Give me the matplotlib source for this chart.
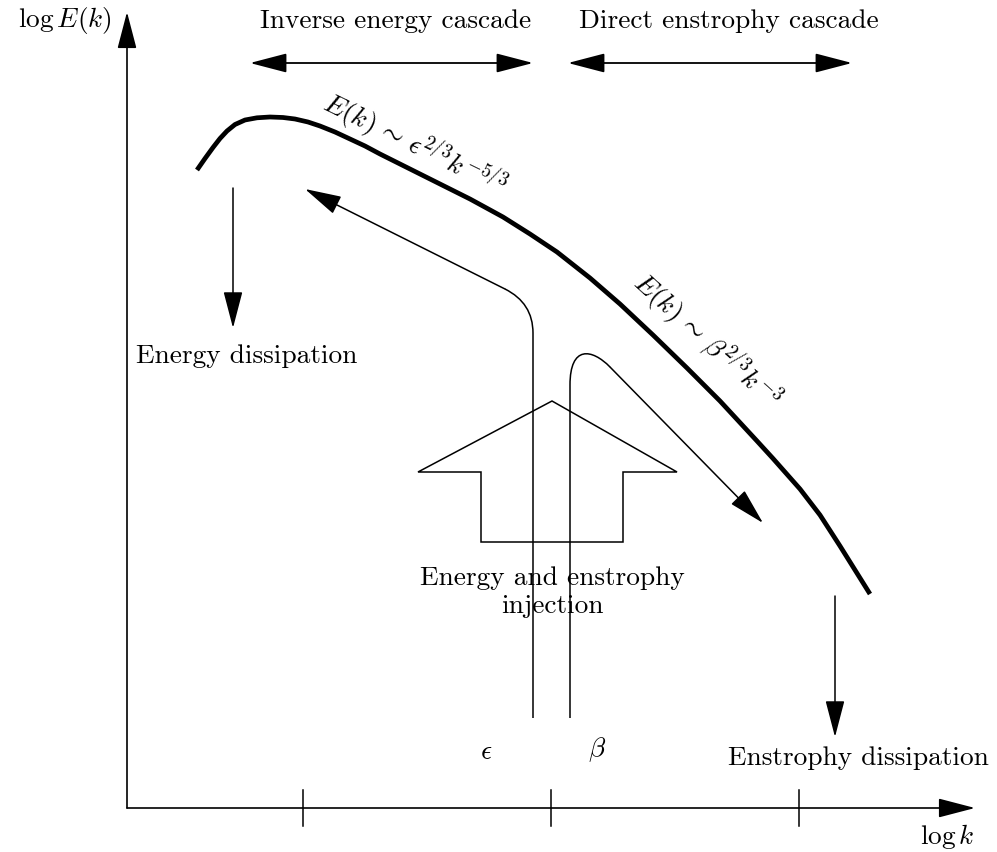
import matplotlib
matplotlib.use("Agg")
import matplotlib.pyplot as plt
from matplotlib.path import Path
from matplotlib.patches import PathPatch, Polygon

plt.rcParams['mathtext.fontset'] = 'cm'
plt.rcParams['axes.unicode_minus'] = False

# ---- schematic data (pixel-space coordinates) ----
spectrum_x = [197, 205, 213, 220, 227, 235, 245, 257, 270, 283, 295, 308, 320,
              335, 350, 365, 380, 400, 420, 445, 470, 503, 530, 557, 590, 620,
              653, 687, 720, 757, 773, 800, 820, 840, 870]
spectrum_y = [170, 158.5, 147.5, 138.5, 131, 124.5, 120, 117.8, 117, 117.5, 119,
              122, 126, 132, 139, 146, 154, 164, 174, 186.5, 199, 217, 234, 252,
              278, 304, 335, 368, 401, 441, 458.5, 489, 515, 546, 594]

tick_positions = [303, 551, 799]

block_arrow_x = [552, 418, 481, 481, 623, 623, 677, 552]
block_arrow_y = [401, 472, 472, 542, 542, 472, 472, 401]

# energy flux line: vertical, quadratic bend, then straight to arrow tip
energy_line_x = [533, 533, 533, 505]
energy_line_y = [718, 333, 303, 289]
energy_tip = (305, 189)

# enstrophy flux line: vertical, cubic bend, then straight to arrow tip
enstrophy_line_x = [570, 570, 570, 592, 610]
enstrophy_line_y = [718, 385, 345, 348.6, 367]
enstrophy_tip = (763, 523)

W, H = 997, 852
fig = plt.figure(figsize=(W / 100, H / 100), dpi=100)
ax = fig.add_axes([0, 0, 1, 1])
ax.set_xlim(0, W)
ax.set_ylim(H, 0)
ax.axis('off')

TXT = 19.7
FONT = 'cmr10'
thin = 1.1


def arrow(xy_from, xy_to, lw=thin, hl=2.3, hw=0.6, both=False):
    style = '<|-|>' if both else '-|>'
    ax.annotate('', xy=xy_to, xytext=xy_from,
                arrowprops=dict(arrowstyle=f'{style},head_length={hl},head_width={hw}',
                                mutation_scale=10, lw=lw, color='black',
                                shrinkA=0, shrinkB=0))

# axes
arrow((127, 808), (127, 12), lw=1.2)
arrow((127, 808), (975, 808), lw=1.2)
for tx in tick_positions:
    ax.plot([tx, tx], [790, 826], color='black', lw=thin)

ax.text(112, 27, r'$\log E(k)$', ha='right', va='baseline', fontsize=TXT)
ax.text(975, 844, r'$\log k$', ha='right', va='baseline', fontsize=TXT)

# top cascade arrows
arrow((250, 63), (533, 63), both=True, lw=1.3)
arrow((568, 63), (852, 63), both=True, lw=1.3)
ax.text(396, 28, 'Inverse energy cascade', ha='center', va='baseline',
        fontsize=TXT, family=FONT)
ax.text(729, 28, 'Direct enstrophy cascade', ha='center', va='baseline',
        fontsize=TXT, family=FONT)

# spectrum
ax.plot(spectrum_x, spectrum_y, color='black', lw=3.4,
        solid_joinstyle='round', solid_capstyle='butt')

ax.text(414, 146, r'$E(k)\,\sim\,\epsilon^{2/3} k^{-5/3}$', rotation=-26,
        rotation_mode='anchor', ha='center', va='center', fontsize=TXT)
ax.text(706, 341, r'$E(k)\,\sim\,\beta^{2/3} k^{-3}$', rotation=-42,
        rotation_mode='anchor', ha='center', va='center', fontsize=TXT)

# dissipation arrows
arrow((233, 188), (233, 328))
ax.text(247, 356, 'Energy dissipation', ha='center', va='center',
        fontsize=TXT, family=FONT)
arrow((835, 596), (835, 737))
ax.text(858, 758, 'Enstrophy dissipation', ha='center', va='center',
        fontsize=TXT, family=FONT)

# injection block arrow
ax.add_patch(Polygon(list(zip(block_arrow_x, block_arrow_y)), closed=True,
                     fill=False, ec='black', lw=thin))
ax.text(552, 578, 'Energy and enstrophy', ha='center', va='center',
        fontsize=TXT, family=FONT)
ax.text(552, 606, 'injection', ha='center', va='center',
        fontsize=TXT, family=FONT)

# flux lines
p1 = Path(list(zip(energy_line_x, energy_line_y)),
          [Path.MOVETO, Path.LINETO, Path.CURVE3, Path.CURVE3])
ax.add_patch(PathPatch(p1, fill=False, ec='black', lw=thin))
arrow((energy_line_x[-1], energy_line_y[-1]), energy_tip)

p2 = Path(list(zip(enstrophy_line_x, enstrophy_line_y)),
          [Path.MOVETO, Path.LINETO, Path.CURVE4, Path.CURVE4, Path.CURVE4])
ax.add_patch(PathPatch(p2, fill=False, ec='black', lw=thin))
arrow((enstrophy_line_x[-1], enstrophy_line_y[-1]), enstrophy_tip)

ax.text(486, 752, r'$\epsilon$', ha='center', va='center', fontsize=TXT)
ax.text(597, 750, r'$\beta$', ha='center', va='center', fontsize=TXT)

fig.savefig('out.png', dpi=100)
